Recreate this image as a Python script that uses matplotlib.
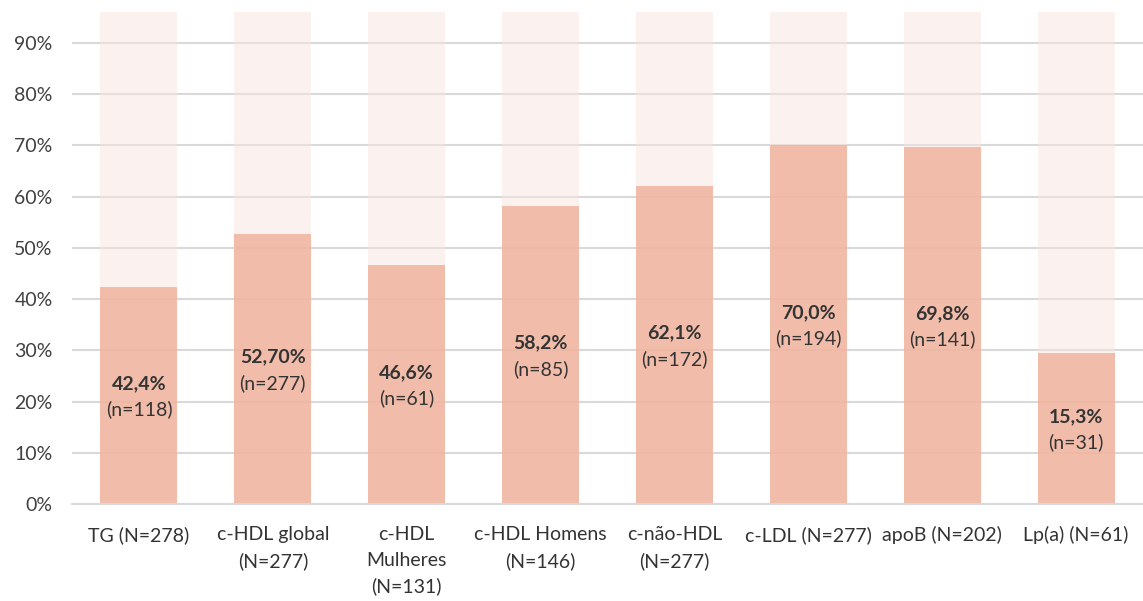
import numpy as np
import matplotlib.pyplot as plt

plt.rcParams['font.family'] = ['Lato', 'DejaVu Sans']

categorias = ['TG (N=278)', 'c-HDL global\n(N=277)', 'c-HDL\nMulheres\n(N=131)',
              'c-HDL Homens\n(N=146)', 'c-não-HDL\n(N=277)', 'c-LDL (N=277)',
              'apoB (N=202)', 'Lp(a) (N=61)']
valores = [0.424, 0.527, 0.466, 0.582, 0.621, 0.700, 0.698, 0.294]
rotulos = ['42,4%', '52,70%', '46,6%', '58,2%', '62,1%', '70,0%', '69,8%', '15,3%']
n_vals = ['(n=118)', '(n=277)', '(n=61)', '(n=85)', '(n=172)', '(n=194)', '(n=141)', '(n=31)']

resto = [1.0 - v for v in valores]

fig = plt.figure(figsize=(11.43, 6.01), dpi=100)
ax = fig.add_axes([0.063, 0.1614, 0.937, 0.8181])

x = np.arange(len(categorias))
larg = 0.575
ax.bar(x, valores, width=larg, color='#F0B49E', alpha=0.88, zorder=2)
ax.bar(x, resto, bottom=valores, width=larg, color='#F9E4DE', alpha=0.5, zorder=2)

fs = 14
for xi, v, r, n in zip(x, valores, rotulos, n_vals):
    ax.annotate(r, (xi, v / 2), xytext=(0, 8.5), textcoords='offset points',
                ha='center', va='center', fontsize=fs, fontweight='bold',
                color='#333333', zorder=3)
    ax.annotate(n, (xi, v / 2), xytext=(0, -10), textcoords='offset points',
                ha='center', va='center', fontsize=fs, color='#333333', zorder=3)

ax.set_ylim(0, 0.96)
ax.set_xlim(-0.5, len(categorias) - 0.5)
ax.set_yticks(np.arange(0, 0.91, 0.1))
ax.set_yticklabels([f'{int(round(t * 100))}%' for t in np.arange(0, 0.91, 0.1)])
ax.set_xticks(x)
ax.set_xticklabels(categorias, fontsize=fs, color='#333333', linespacing=1.6)
ax.tick_params(axis='y', labelsize=fs, labelcolor='#404040', length=0, pad=14)
ax.tick_params(axis='x', length=0, pad=16)
ax.grid(axis='y', color='#D9D9D9', linewidth=1.5, zorder=1)
ax.set_axisbelow(True)
for s in ['top', 'right', 'left']:
    ax.spines[s].set_visible(False)
ax.spines['bottom'].set_color('#D9D9D9')
ax.spines['bottom'].set_linewidth(1.5)

fig.savefig('out.png', dpi=100)
